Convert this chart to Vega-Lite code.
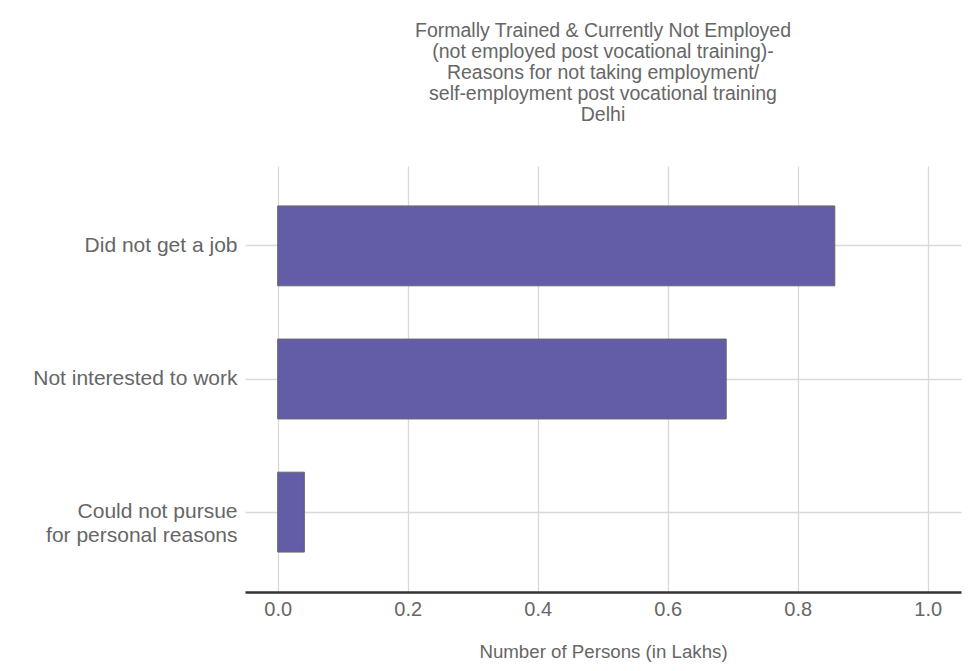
{
  "$schema": "https://vega.github.io/schema/vega-lite/v6.json",
  "autosize": {"type": "none"},
  "width": 716,
  "height": 426,
  "padding": {"left": 245, "top": 166, "right": 10, "bottom": 79},
  "background": "white",
  "config": {
    "font": "Liberation Sans",
    "view": {"stroke": null},
    "axis": {"labelColor": "#666666", "titleColor": "#666666", "labelFont": "Liberation Sans", "titleFont": "Liberation Sans", "titleFontWeight": "normal", "gridColor": "#d9d9d9", "gridWidth": 1.3}
  },
  "title": {
    "text": ["Formally Trained & Currently Not Employed", "(not employed post vocational training)-", "Reasons for not taking employment/", "self-employment post vocational training", "Delhi"],
    "fontSize": 19.5,
    "lineHeight": 21,
    "font": "Liberation Sans",
    "fontWeight": "normal",
    "color": "#666666",
    "anchor": "middle",
    "frame": "group",
    "offset": 41
  },
  "data": {
    "values": [
      {"reason": "Did not get a job", "persons": 0.857},
      {"reason": "Not interested to work", "persons": 0.69},
      {"reason": "Could not pursue for personal reasons", "persons": 0.041}
    ]
  },
  "mark": {"type": "bar", "color": "#635CA7", "stroke": "#666666", "strokeWidth": 1},
  "encoding": {
    "y": {
      "field": "reason",
      "type": "nominal",
      "sort": ["Did not get a job", "Not interested to work", "Could not pursue for personal reasons"],
      "scale": {"paddingInner": 0.4, "paddingOuter": 0.3},
      "axis": {
        "title": null,
        "domain": false,
        "ticks": false,
        "grid": true,
        "labelFontSize": 21,
        "labelPadding": 8,
        "labelLineHeight": 24,
        "labelLimit": 300,
        "labelExpr": "datum.value == 'Could not pursue for personal reasons' ? ['Could not pursue', 'for personal reasons'] : datum.value"
      }
    },
    "x": {
      "field": "persons",
      "type": "quantitative",
      "scale": {"domain": [-0.0503, 1.0512], "nice": false, "zero": false},
      "axis": {
        "title": "Number of Persons (in Lakhs)",
        "titleFontSize": 18.7,
        "titlePadding": 23,
        "values": [0, 0.2, 0.4, 0.6, 0.8, 1.0],
        "format": ".1f",
        "domain": true,
        "domainColor": "#333333",
        "domainWidth": 2.5,
        "ticks": false,
        "grid": true,
        "labelFontSize": 20,
        "labelPadding": 7
      }
    }
  }
}
